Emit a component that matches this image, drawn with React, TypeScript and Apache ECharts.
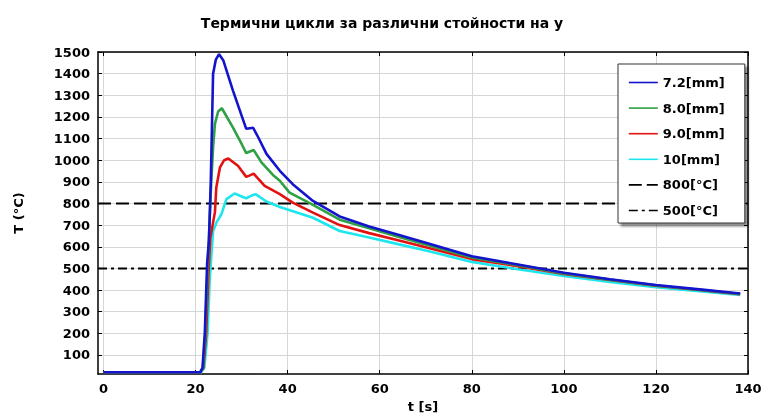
import React, { useEffect, useRef } from "react";
import * as echarts from "echarts";

const TITLE = "Термични цикли за различни стойности на у";
const X_NAME = "t [s]";
const Y_NAME = "T (°C)";
const X_TICKS = [0, 20, 40, 60, 80, 100, 120, 140];
const Y_TICKS = [100, 200, 300, 400, 500, 600, 700, 800, 900, 1000, 1100, 1200, 1300, 1400, 1500];

const SERIES_NAMES = ["7.2[mm]", "8.0[mm]", "9.0[mm]", "10[mm]", "800[°C]", "500[°C]"];
const SERIES_COLORS = ["#1414cc", "#2fa044", "#e31212", "#1ee6ee", "#000000", "#000000"];

// [t (s), T (°C)]
const Y72: number[][] = [
  [0, 20], [21, 20], [21.5, 40], [22, 200], [22.5, 520], [22.9, 630], [23.3, 900], [23.8, 1400],
  [24.4, 1465], [25.1, 1490], [26, 1462], [28.1, 1323], [30, 1206], [31, 1145], [31.8, 1148],
  [32.5, 1150], [33.6, 1106], [35.4, 1029], [38.3, 951], [41.1, 889], [45.5, 812], [51.3, 740],
  [57.7, 694], [64.2, 654], [70, 618], [80, 556], [90, 518], [100, 480], [110, 450], [120, 423],
  [130, 402], [138.3, 384],
];
const Y80: number[][] = [
  [0, 20], [21, 20], [21.6, 40], [22.1, 200], [22.6, 500], [22.9, 640], [23.4, 900], [23.8, 1059],
  [24.2, 1168], [24.9, 1225], [25.7, 1240], [28.1, 1152], [30, 1075], [31, 1033], [31.8, 1040],
  [32.6, 1047], [34.3, 990], [36.8, 932], [38.3, 905], [40.4, 850], [45.1, 798], [51.3, 725],
  [57.7, 686], [64.2, 645], [70, 610], [80, 550], [90, 515], [100, 477], [110, 448], [120, 421],
  [130, 400], [138.3, 382],
];
const Y90: number[][] = [
  [0, 20], [21, 20], [21.7, 40], [22.3, 200], [22.8, 480], [23.2, 640], [23.7, 700], [24.2, 760],
  [24.5, 874], [25.3, 967], [26.2, 1000], [27.1, 1008], [29.2, 974], [31, 923], [31.8, 930],
  [32.6, 938], [35, 881], [38.3, 843], [41.1, 804], [45.5, 758], [51.3, 700], [57.7, 663],
  [64.2, 629], [70, 598], [80, 543], [90, 510], [100, 474], [110, 446], [120, 420], [130, 399],
  [138.3, 381],
];
const Y10: number[][] = [
  [0, 20], [21.2, 20], [21.9, 40], [22.6, 200], [23.1, 460], [23.8, 671], [24.6, 715], [25.6, 750],
  [26.7, 820], [28.5, 846], [30, 832], [31, 824], [32, 835], [33, 843], [35.4, 809], [38.3, 784],
  [45.5, 734], [51.3, 673], [57.7, 643], [64.2, 611], [70, 583], [80, 530], [90, 496], [100, 465],
  [110, 437], [120, 413], [130, 393], [138.3, 377],
];
const LINE_800: number[][] = [[-1.2, 800], [140, 800]];
const LINE_500: number[][] = [[-1.2, 500], [140, 500]];

const X_MIN = -1.2;
const X_MAX = 140;
const Y_MIN = 12;
const Y_MAX = 1500;

export default function App() {
  const ref = useRef<HTMLDivElement>(null);
  useEffect(() => {
    document.body.style.margin = "0";
    const chart = echarts.init(ref.current!, null, { renderer: "svg" });
    const font = "DejaVu Sans";
    const labelStyle = { fontFamily: font, fontWeight: "bold" as const, fontSize: 13, color: "#000" };
    const plain = (v: number) => String(v);
    const gridLine = { show: true, lineStyle: { color: "#d6d6d6", width: 1 } };
    const dataSeries = [Y72, Y80, Y90, Y10].map((d, i) => ({
      name: SERIES_NAMES[i],
      type: "line",
      data: d,
      symbol: "none",
      z: 10 - i,
      lineStyle: { color: SERIES_COLORS[i], width: 2.6 },
      itemStyle: { color: SERIES_COLORS[i] },
    }));
    chart.setOption({
      animation: false,
      title: {
        text: TITLE,
        left: 377,
        top: 11,
        textAlign: "center",
        textStyle: { fontFamily: font, fontWeight: "bold", fontSize: 14, color: "#000" },
      },
      grid: { left: 98, right: 16, top: 52, bottom: 41, containLabel: false, outerBoundsMode: "none" },
      legend: {
        data: SERIES_NAMES,
        orient: "vertical",
        left: 618,
        top: 64,
        padding: [12, 20, 6, 10],
        itemWidth: 29,
        itemHeight: 14,
        itemGap: 12.6,
        backgroundColor: "#ffffff",
        borderColor: "#333",
        borderWidth: 1,
        borderRadius: 0,
        shadowColor: "rgba(0,0,0,0.45)",
        shadowBlur: 2,
        shadowOffsetX: 3,
        shadowOffsetY: 3,
        itemStyle: { opacity: 0 },
        lineStyle: { width: 1.6 },
        textStyle: { ...labelStyle, fontSize: 13 },
        selectedMode: false,
      },
      xAxis: [
        {
          type: "value",
          min: X_MIN,
          max: X_MAX,
          name: X_NAME,
          nameLocation: "middle",
          nameGap: 26,
          nameTextStyle: { ...labelStyle, fontSize: 13 },
          axisLine: { show: true, onZero: false, lineStyle: { color: "#000", width: 1.5 } },
          axisTick: { show: true, inside: true, length: 4, customValues: X_TICKS, lineStyle: { color: "#000" } },
          axisLabel: { ...labelStyle, margin: 8, customValues: X_TICKS, formatter: plain },
          splitLine: gridLine,
        },
        {
          type: "value",
          position: "top",
          min: X_MIN,
          max: X_MAX,
          axisLine: { show: true, onZero: false, lineStyle: { color: "#000", width: 1.5 } },
          axisTick: { show: true, inside: true, length: 4, customValues: X_TICKS, lineStyle: { color: "#000" } },
          axisLabel: { show: false, customValues: X_TICKS },
          splitLine: { show: false },
        },
      ],
      yAxis: [
        {
          type: "value",
          min: Y_MIN,
          max: Y_MAX,
          name: Y_NAME,
          nameLocation: "middle",
          nameGap: 73,
          nameRotate: 90,
          nameTextStyle: { ...labelStyle, fontSize: 13 },
          axisLine: { show: true, onZero: false, lineStyle: { color: "#000", width: 1.5 } },
          axisTick: { show: true, inside: true, length: 4, customValues: Y_TICKS, lineStyle: { color: "#000" } },
          axisLabel: { ...labelStyle, margin: 8, customValues: Y_TICKS, formatter: plain },
          splitLine: gridLine,
        },
        {
          type: "value",
          position: "right",
          min: Y_MIN,
          max: Y_MAX,
          axisLine: { show: true, onZero: false, lineStyle: { color: "#000", width: 1.5 } },
          axisTick: { show: true, inside: true, length: 4, customValues: Y_TICKS, lineStyle: { color: "#000" } },
          axisLabel: { show: false, customValues: Y_TICKS },
          splitLine: { show: false },
        },
      ],
      series: [
        ...dataSeries,
        {
          name: SERIES_NAMES[4],
          type: "line",
          data: LINE_800,
          symbol: "none",
          z: 3,
          lineStyle: { color: "#000", width: 2, type: [13, 5] },
          itemStyle: { color: "#000" },
        },
        {
          name: SERIES_NAMES[5],
          type: "line",
          data: LINE_500,
          symbol: "none",
          z: 3,
          lineStyle: { color: "#000", width: 2, type: [9, 4, 3, 4] },
          itemStyle: { color: "#000" },
        },
      ],
    });
    return () => chart.dispose();
  }, []);
  return <div ref={ref} style={{ position: "fixed", left: 0, top: 0, width: 764, height: 415 }} />;
}
